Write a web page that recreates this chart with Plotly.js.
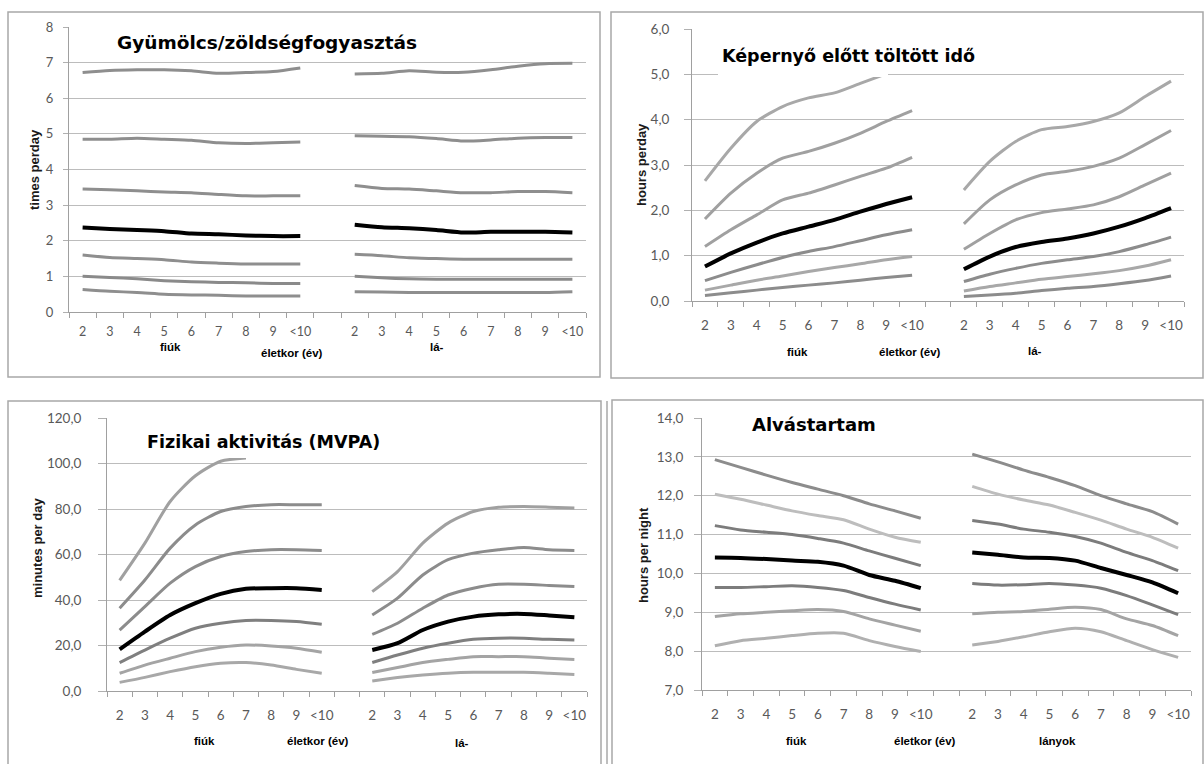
<!DOCTYPE html>
<html><head><meta charset="utf-8">
<script src="https://cdn.plot.ly/plotly-3.0.1.min.js"></script>
<style>html,body{margin:0;padding:0;background:#fff}#chart{width:1204px;height:764px}</style>
</head><body><div id="chart"></div>
<script>
// ---------- DATA ----------
const ages = ['2','3','4','5','6','7','8','9','<10'];
const percentiles = ['P3','P10','P25','P50','P75','P90','P97'];

const panelTitles = ['Gyümölcs/zöldségfogyasztás','Képernyő előtt töltött idő','Fizikai aktivitás (MVPA)','Alvástartam'];
const yTitles = ['times perday','hours perday','minutes per day','hours per night'];
const boysLabel = 'fiúk';
const ageLabel = 'életkor (év)';
const girlsLabels = ['lá-','lá-','lá-','lányok'];

// rows = P3, P10, P25, P50, P75, P90, P97
const fruitBoys = [
  [0.63,0.58,0.55,0.50,0.48,0.47,0.45,0.45,0.45],
  [1.00,0.97,0.93,0.88,0.85,0.83,0.82,0.80,0.80],
  [1.60,1.53,1.50,1.47,1.40,1.37,1.35,1.35,1.35],
  [2.37,2.33,2.30,2.27,2.20,2.18,2.15,2.13,2.13],
  [3.45,3.43,3.40,3.37,3.35,3.30,3.26,3.26,3.26],
  [4.85,4.85,4.88,4.85,4.82,4.75,4.73,4.75,4.77],
  [6.72,6.78,6.80,6.80,6.77,6.70,6.72,6.75,6.85]
];
const fruitGirls = [
  [0.57,0.56,0.55,0.55,0.55,0.55,0.55,0.55,0.57],
  [1.00,0.96,0.93,0.92,0.92,0.92,0.92,0.92,0.92],
  [1.62,1.58,1.52,1.50,1.48,1.48,1.48,1.48,1.48],
  [2.45,2.38,2.35,2.30,2.23,2.25,2.25,2.25,2.23],
  [3.55,3.47,3.45,3.40,3.35,3.35,3.38,3.38,3.35],
  [4.95,4.93,4.92,4.87,4.80,4.83,4.88,4.90,4.90],
  [6.68,6.70,6.77,6.73,6.73,6.80,6.90,6.97,6.98]
];
const screenBoys = [
  [0.12,0.18,0.24,0.30,0.35,0.40,0.46,0.52,0.57],
  [0.24,0.35,0.46,0.55,0.65,0.74,0.82,0.91,0.98],
  [0.45,0.63,0.80,0.96,1.09,1.20,1.33,1.46,1.57],
  [0.76,1.05,1.29,1.49,1.64,1.79,1.97,2.14,2.29],
  [1.20,1.57,1.90,2.23,2.38,2.56,2.75,2.93,3.17],
  [1.81,2.38,2.82,3.15,3.30,3.48,3.70,3.96,4.20],
  [2.65,3.37,3.96,4.29,4.48,4.59,4.80,5.01,null]
];
const screenGirls = [
  [0.10,0.13,0.17,0.23,0.28,0.32,0.38,0.45,0.55],
  [0.22,0.32,0.40,0.48,0.54,0.60,0.67,0.77,0.91],
  [0.43,0.59,0.72,0.83,0.91,0.98,1.09,1.24,1.41],
  [0.70,0.98,1.19,1.30,1.38,1.49,1.64,1.83,2.05],
  [1.14,1.49,1.79,1.95,2.03,2.12,2.30,2.56,2.82],
  [1.70,2.23,2.56,2.78,2.86,2.97,3.15,3.45,3.76],
  [2.45,3.08,3.52,3.78,3.85,3.96,4.15,4.51,4.85]
];
const mvpaBoys = [
  [3.8,6.0,8.5,10.7,12.2,12.5,11.4,9.5,7.8],
  [7.8,11.4,14.4,17.3,19.2,20.2,19.8,18.8,17.0],
  [12.5,18.0,23.2,27.6,29.8,31.0,31.0,30.5,29.3],
  [18.3,26.1,33.4,38.6,42.7,44.9,45.2,45.2,44.4],
  [26.8,37.1,47.4,54.7,59.1,61.3,62.1,62.1,61.8],
  [36.4,48.8,62.8,73.0,78.9,81.1,81.9,81.9,81.9],
  [48.6,65.0,83.3,94.6,101.0,102.4,null,null,null]
];
const mvpaGirls = [
  [4.4,5.9,7.0,7.8,8.2,8.2,8.2,7.8,7.3],
  [8.1,10.3,12.5,13.9,15.1,15.1,15.1,14.4,13.9],
  [12.5,15.8,18.8,21.0,22.7,23.2,23.2,22.7,22.4],
  [18.0,21.0,26.8,30.5,32.7,33.7,33.9,33.2,32.4],
  [24.9,29.8,36.4,42.2,45.2,46.9,46.9,46.4,45.9],
  [33.4,40.8,51.0,57.7,60.6,62.1,63.1,62.1,61.8],
  [43.7,52.5,65.0,73.8,78.9,80.8,81.1,80.8,80.4]
];
const sleepBoys = [
  [8.14,8.27,8.33,8.40,8.46,8.46,8.27,8.12,7.99],
  [8.89,8.96,9.00,9.04,9.07,9.02,8.83,8.67,8.51],
  [9.64,9.64,9.66,9.68,9.64,9.56,9.38,9.21,9.06],
  [10.41,10.40,10.37,10.33,10.30,10.20,9.96,9.81,9.62],
  [11.23,11.12,11.06,11.00,10.90,10.78,10.58,10.39,10.20],
  [12.04,11.91,11.76,11.61,11.49,11.38,11.14,10.93,10.80],
  [12.93,12.73,12.53,12.34,12.17,12.00,11.79,11.61,11.42]
];
const sleepGirls = [
  [8.16,8.25,8.37,8.50,8.59,8.50,8.27,8.04,7.84],
  [8.96,9.00,9.02,9.08,9.13,9.07,8.83,8.66,8.40],
  [9.74,9.70,9.71,9.74,9.70,9.62,9.43,9.19,8.94],
  [10.54,10.48,10.41,10.40,10.33,10.14,9.96,9.77,9.49],
  [11.36,11.27,11.14,11.06,10.95,10.78,10.54,10.33,10.07],
  [12.24,12.04,11.89,11.76,11.57,11.37,11.14,10.93,10.65],
  [13.07,12.87,12.66,12.47,12.26,12.00,11.79,11.59,11.27]
];
const yRanges = [[0,8],[0,6],[0,120],[7,14]];
const yDticks = [1,1,20,1];

// ---------- STYLE / LAYOUT ----------
const W = 1204, H = 764;
const px = v => v / W;
const py = v => 1 - v / H;

const panelData = [[fruitBoys, fruitGirls],[screenBoys, screenGirls],[mvpaBoys, mvpaGirls],[sleepBoys, sleepGirls]];

const lineColors = [
  ['#8e8e8e','#8a8a8a','#8e8e8e','#000000','#8e8e8e','#8e8e8e','#8e8e8e'],
  ['#8c8c8c','#a8a8a8','#8c8c8c','#000000','#a0a0a0','#a0a0a0','#a8a8a8'],
  ['#a8a8a8','#a4a4a4','#7f7f7f','#000000','#8c8c8c','#8c8c8c','#a0a0a0'],
  ['#b0b0b0','#a4a4a4','#7c7c7c','#000000','#7c7c7c','#bdbdbd','#8c8c8c']
];

// plot-area rectangles in pixels: [x0, x1, yTop, yBottom]
const plotBox = [[69,586,27,312],[692,1184,29,301],[107,587,418,691],[702,1191,418,690]];
// panel borders in pixels
const borders = [[8,12,600,377],[611,12,1203,378],[8,401,601,770],[612,400,1203,770]];
// white boxes behind the titles
const titleBoxes = [[92,14,474,53],[718,40,888,77],[124,408,505,458],[729,402,1110,446]];
const titleSpec = [[115,42,18.5],[720,56,17.5],[145,442,17.5],[750,425,18]];
const yTitlePos = [[34,170],[641,165],[37,548],[643,555]];
const bottomLabels = [
  [[170,347],[292,353],[437,347]],
  [[797,352],[910,352],[1035,351]],
  [[204,741],[318,741],[462,743]],
  [[796,741],[925,741],[1057,741]]
];
const yTickStyle = [[5,7,13],[7,12,13.5],[8,14,13.5],[7,8,13.5]]; // ticklen, standoff, font
const xTickStyle = [[8,12.5],[12,13.5],[12,13.5],[12,13.5]]; // standoff, font

const tickVals = [], tickText = [];
ages.forEach((a,i)=>{tickVals.push(i); tickText.push(a);});
ages.forEach((a,i)=>{tickVals.push(i+10); tickText.push(a);});

const traces = [];
const layout = {
  width: W, height: H,
  margin: {l:0,r:0,t:0,b:0},
  paper_bgcolor: '#ffffff', plot_bgcolor: 'rgba(0,0,0,0)',
  showlegend: false,
  separators: ',.',
  font: {family: 'Lato, "Open Sans", sans-serif', color: '#595959'},
  shapes: [], annotations: []
};

panelData.forEach((pd, k) => {
  const xa = k === 0 ? 'x' : 'x' + (k+1);
  const ya = k === 0 ? 'y' : 'y' + (k+1);
  const xk = k === 0 ? 'xaxis' : 'xaxis' + (k+1);
  const yk = k === 0 ? 'yaxis' : 'yaxis' + (k+1);
  const b = plotBox[k];
  pd.forEach((sexRows, s) => {
    sexRows.forEach((row, j) => {
      traces.push({
        type: 'scatter', mode: 'lines',
        x: ages.map((_, i) => i + s*10),
        y: row,
        name: percentiles[j],
        xaxis: xa, yaxis: ya,
        connectgaps: false,
        hoverinfo: 'skip',
        line: {color: lineColors[k][j], width: j === 3 ? 4 : 3, shape: 'spline', smoothing: 0.7}
      });
    });
  });
  layout[xk] = {
    domain: [px(b[0]), px(b[1])],
    anchor: ya,
    range: [-0.5, 18.5],
    tickmode: 'array', tickvals: tickVals, ticktext: tickText,
    ticks: '', ticklabelstandoff: xTickStyle[k][0],
    tickfont: {size: xTickStyle[k][1], color: '#595959'},
    showgrid: false, zeroline: false,
    showline: true, linecolor: '#a0a0a0', linewidth: 1,
    minor: {tickmode: 'linear', tick0: -0.5, dtick: 1, ticks: 'outside', ticklen: 5, tickcolor: '#a0a0a0', tickwidth: 1, showgrid: false},
    fixedrange: true
  };
  layout[yk] = {
    domain: [py(b[3]), py(b[2])],
    anchor: xa,
    range: yRanges[k],
    dtick: yDticks[k], tick0: yRanges[k][0],
    tickformat: k === 0 ? 'd' : '.1f',
    ticks: 'outside', ticklen: yTickStyle[k][0], tickcolor: '#b0b0b0',
    ticklabelstandoff: yTickStyle[k][1],
    tickfont: {size: yTickStyle[k][2], color: '#595959'},
    showgrid: true, gridcolor: '#bcbcbc', gridwidth: 1,
    zeroline: false,
    showline: true, linecolor: '#a0a0a0', linewidth: 1,
    fixedrange: true
  };
  // panel border
  const bd = borders[k];
  layout.shapes.push({type:'rect', xref:'paper', yref:'paper', x0:px(bd[0]), x1:px(bd[2]), y0:py(bd[3]), y1:py(bd[1]),
    line:{color:'#a8a8a8', width:1.5}, fillcolor:'rgba(0,0,0,0)', layer:'below'});
  // title white box
  const tb = titleBoxes[k];
  layout.shapes.push({type:'rect', xref:'paper', yref:'paper', x0:px(tb[0]), x1:px(tb[2]), y0:py(tb[3]), y1:py(tb[1]),
    line:{width:0}, fillcolor:'#ffffff', layer:'above'});
  // title
  const ts = titleSpec[k];
  layout.annotations.push({xref:'paper', yref:'paper', x:px(ts[0]), y:py(ts[1]), xanchor:'left', yanchor:'middle',
    text:'<b>' + panelTitles[k] + '</b>', showarrow:false,
    font:{family:'"DejaVu Sans", Verdana, sans-serif', size:ts[2], color:'#000000'}});
  // y title
  const yt = yTitlePos[k];
  layout.annotations.push({xref:'paper', yref:'paper', x:px(yt[0]), y:py(yt[1]), xanchor:'center', yanchor:'middle',
    text:'<b>' + yTitles[k] + '</b>', textangle:-90, showarrow:false,
    font:{family:'"Liberation Sans", Arial, sans-serif', size:13, color:'#1a1a1a'}});
  // bottom labels
  const bl = bottomLabels[k];
  const texts = [boysLabel, ageLabel, girlsLabels[k]];
  bl.forEach((p, i) => {
    layout.annotations.push({xref:'paper', yref:'paper', x:px(p[0]), y:py(p[1]), xanchor:'center', yanchor:'middle',
      text:'<b>' + texts[i] + '</b>', showarrow:false,
      font:{family:'"Liberation Sans", Arial, sans-serif', size:11.5, color:'#000000'}});
  });
});
// extra outer edge line at the left of the bottom-right panel
layout.shapes.push({type:'line', xref:'paper', yref:'paper', x0:px(607), x1:px(607), y0:py(770), y1:py(401),
  line:{color:'#a8a8a8', width:1.5}, layer:'below'});

Plotly.newPlot('chart', traces, layout, {displayModeBar:false, staticPlot:true});
</script>
</body></html>
